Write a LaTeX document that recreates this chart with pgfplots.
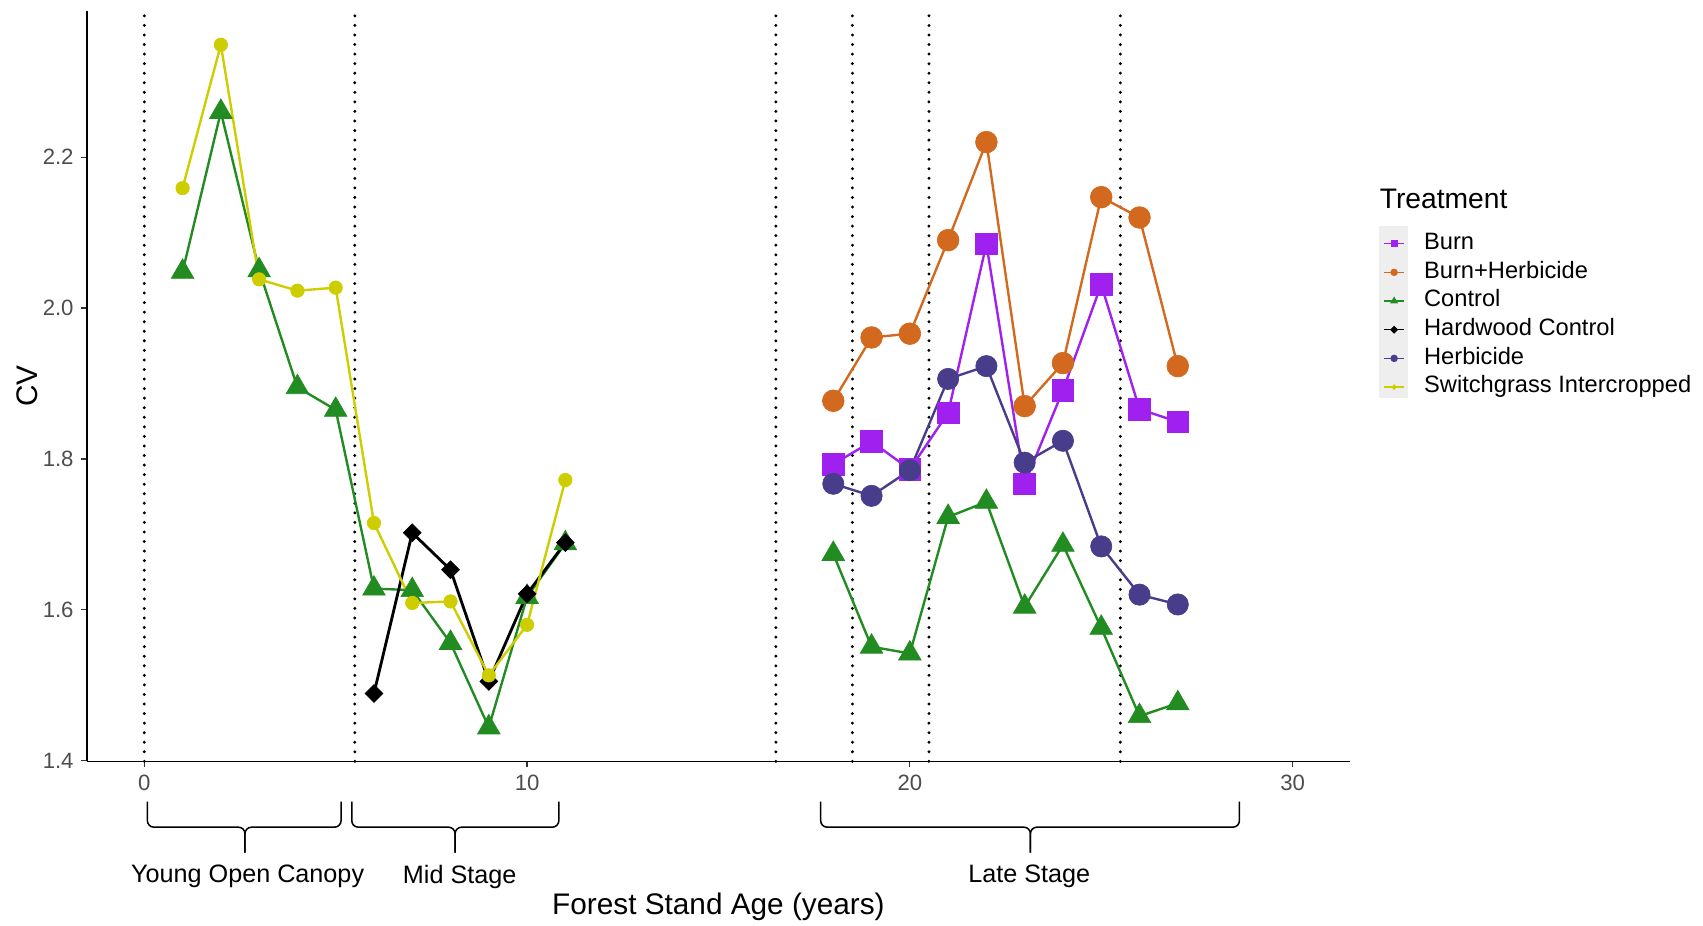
\documentclass[border=0pt]{standalone}
\usepackage{fontspec}
\setmainfont{Liberation Sans}
\usepackage{pgfplots}
\usepackage{pgfplotstable}
\pgfplotsset{compat=1.18}

\definecolor{burn}{HTML}{A020F0}
\definecolor{burnherb}{HTML}{D2691E}
\definecolor{control}{HTML}{228B22}
\definecolor{hardwood}{HTML}{000000}
\definecolor{herb}{HTML}{483D8B}
\definecolor{switch}{HTML}{CDCD00}
\definecolor{tickgray}{HTML}{4D4D4D}
\definecolor{keybg}{HTML}{EEEEEE}

% CV by forest stand age, one table per treatment
\pgfplotstableread{
x y
18 1.793
19 1.823
20 1.786
21 1.861
22 2.085
23 1.767
24 1.891
25 2.031
26 1.866
27 1.849
}\tburn
\pgfplotstableread{
x y
18 1.877
19 1.961
20 1.966
21 2.090
22 2.220
23 1.870
24 1.927
25 2.147
26 2.120
27 1.923
}\tburnherb
\pgfplotstableread{
x y
1 2.048
2 2.260
3 2.050
4 1.895
5 1.865
6 1.628
7 1.626
8 1.556
9 1.444
10 1.617
11 1.688
}\tcontrolA
\pgfplotstableread{
x y
18 1.674
19 1.551
20 1.542
21 1.723
22 1.743
23 1.604
24 1.686
25 1.576
26 1.459
27 1.476
}\tcontrolB
\pgfplotstableread{
x y
6 1.489
7 1.702
8 1.653
9 1.505
10 1.621
11 1.689
}\thardwood
\pgfplotstableread{
x y
18 1.767
19 1.751
20 1.785
21 1.906
22 1.923
23 1.795
24 1.824
25 1.684
26 1.620
27 1.607
}\therb
\pgfplotstableread{
x y
1 2.159
2 2.349
3 2.038
4 2.023
5 2.027
6 1.715
7 1.609
8 1.611
9 1.513
10 1.580
11 1.772
}\tswitch

\tikzset{
  stagebrace/.style={line width=0.7pt, rounded corners=3pt},
  stagelabel/.style={font=\fontsize{11.6}{14}\selectfont, inner sep=0pt},
  vdots/.style={black, line width=1.5pt, line cap=round, dash pattern=on 0pt off 4.4pt},
  trend/.style={line width=1.1pt},
}

\begin{document}
\begin{tikzpicture}
\begin{axis}[
  name=ax, at={(0,0)}, anchor=south west,
  scale only axis, width=581.5pt, height=345.5pt,
  xmin=-1.5, xmax=31.5, ymin=1.399, ymax=2.394,
  axis x line*=bottom, axis y line*=left,
  axis line style={line width=0.6pt, black, -},
  xtick={0,10,20,30}, ytick={1.4,1.6,1.8,2.0,2.2},
  yticklabel style={/pgf/number format/.cd, fixed, fixed zerofill, precision=1},
  tick align=outside, major tick length=2.6pt,
  tick style={line width=0.6pt, color=black!80},
  ticklabel style={font=\fontsize{10.2}{12}\selectfont, text=tickgray},
  /pgf/number format/assume math mode=true,
  clip=false,
  legend cell align=left,
  legend image code/.code={
    \path (-2pt,-4pt) (11pt,1.6pt);
    \draw[mark repeat=2, mark phase=2] plot coordinates {(0pt,0pt) (4.5pt,0pt) (9pt,0pt)};
  },
  legend style={at={(1.02322,0.7051)}, anchor=north west, draw=none, fill=none,
    inner sep=0pt, outer sep=0pt, row sep=2.6pt, column sep=7pt,
    font=\fontsize{10.9}{13}\selectfont,
    nodes={inner sep=0pt, text height=8pt, text depth=2.6pt}},
]
% stage boundaries
\addplot[vdots, forget plot] coordinates {(0,1.399) (0,2.394)};
\addplot[vdots, forget plot] coordinates {(5.5,1.399) (5.5,2.394)};
\addplot[vdots, forget plot] coordinates {(16.5,1.399) (16.5,2.394)};
\addplot[vdots, forget plot] coordinates {(18.5,1.399) (18.5,2.394)};
\addplot[vdots, forget plot] coordinates {(20.5,1.399) (20.5,2.394)};
\addplot[vdots, forget plot] coordinates {(25.5,1.399) (25.5,2.394)};

% connecting lines
\addplot[burn, trend, forget plot] table {\tburn};
\addplot[burnherb, trend, forget plot] table {\tburnherb};
\addplot[control, trend, forget plot] table {\tcontrolA};
\addplot[control, trend, forget plot] table {\tcontrolB};
\addplot[hardwood, trend, line width=1.3pt, forget plot] table {\thardwood};
\addplot[herb, trend, forget plot] table {\therb};
\addplot[switch, trend, forget plot] table {\tswitch};

% points
\addplot[only marks, burn, mark=square*, mark size=5pt, mark options={line width=0.3pt}, forget plot] table {\tburn};
\addplot[only marks, burnherb, mark=*, mark size=5pt, mark options={line width=0.3pt}, forget plot] table {\tburnherb};
\addplot[only marks, control, mark=triangle*, mark size=6pt, mark options={line width=0.3pt}, forget plot] table {\tcontrolA};
\addplot[only marks, control, mark=triangle*, mark size=6pt, mark options={line width=0.3pt}, forget plot] table {\tcontrolB};
\addplot[only marks, hardwood, mark=square*, mark size=2.9pt, mark options={rotate=45, line width=0.3pt}, forget plot] table {\thardwood};
\addplot[only marks, herb, mark=*, mark size=4.9pt, mark options={line width=0.3pt}, forget plot] table {\therb};
\addplot[only marks, switch, mark=*, mark size=3.1pt, mark options={line width=0.3pt}, forget plot] table {\tswitch};

% legend key background
\fill[keybg] (rel axis cs:1.02322,0.48480) rectangle (rel axis cs:1.04557,0.71346);

\addlegendimage{burn, line width=0.6pt, mark=square*, mark size=1.3pt}
\addlegendimage{burnherb, line width=0.6pt, mark=*, mark size=1.4pt}
\addlegendimage{control, line width=0.6pt, mark=triangle*, mark size=1.5pt}
\addlegendimage{hardwood, line width=0.6pt, mark=square*, mark size=1pt, mark options={rotate=45}}
\addlegendimage{herb, line width=0.6pt, mark=*, mark size=1.4pt}
\addlegendimage{switch, line width=0.6pt, mark=*, mark size=0.9pt}
\legend{Burn, Burn+Herbicide, Control, Hardwood Control, Herbicide, Switchgrass Intercropped}

% stage braces
\draw[stagebrace] ([yshift=-18.5pt]axis cs:0.08,1.399) |- ([yshift=-30.3pt]axis cs:2.63,1.399) -- ([yshift=-42pt]axis cs:2.63,1.399);
\draw[stagebrace] ([yshift=-18.5pt]axis cs:5.14,1.399) |- ([yshift=-30.3pt]axis cs:2.63,1.399) -- ([yshift=-42pt]axis cs:2.63,1.399);
\draw[stagebrace] ([yshift=-18.5pt]axis cs:5.42,1.399) |- ([yshift=-30.3pt]axis cs:8.12,1.399) -- ([yshift=-42pt]axis cs:8.12,1.399);
\draw[stagebrace] ([yshift=-18.5pt]axis cs:10.83,1.399) |- ([yshift=-30.3pt]axis cs:8.12,1.399) -- ([yshift=-42pt]axis cs:8.12,1.399);
\draw[stagebrace] ([yshift=-18.5pt]axis cs:17.67,1.399) |- ([yshift=-30.3pt]axis cs:23.15,1.399) -- ([yshift=-42pt]axis cs:23.15,1.399);
\draw[stagebrace] ([yshift=-18.5pt]axis cs:28.61,1.399) |- ([yshift=-30.3pt]axis cs:23.15,1.399) -- ([yshift=-42pt]axis cs:23.15,1.399);
\node[stagelabel] at ([yshift=-53pt]axis cs:2.70,1.399) {Young Open Canopy};
\node[stagelabel] at ([yshift=-53pt]axis cs:8.24,1.399) {Mid Stage};
\node[stagelabel] at ([yshift=-53pt]axis cs:23.12,1.399) {Late Stage};
\end{axis}

% axis titles and legend title
\node[font=\fontsize{13.7}{16}\selectfont, inner sep=0pt] at (290.75pt,-67pt) {Forest Stand Age (years)};
\node[font=\fontsize{13.7}{16}\selectfont, inner sep=0pt, rotate=90] at (-27.5pt,172.75pt) {CV};
\node[font=\fontsize{13}{16}\selectfont, inner sep=0pt, anchor=base west] at (595pt,254.4pt) {Treatment};

\pgfresetboundingbox
\path[use as bounding box] (-40pt,-75.5pt) rectangle (744pt,350.5pt);
\end{tikzpicture}
\end{document}
